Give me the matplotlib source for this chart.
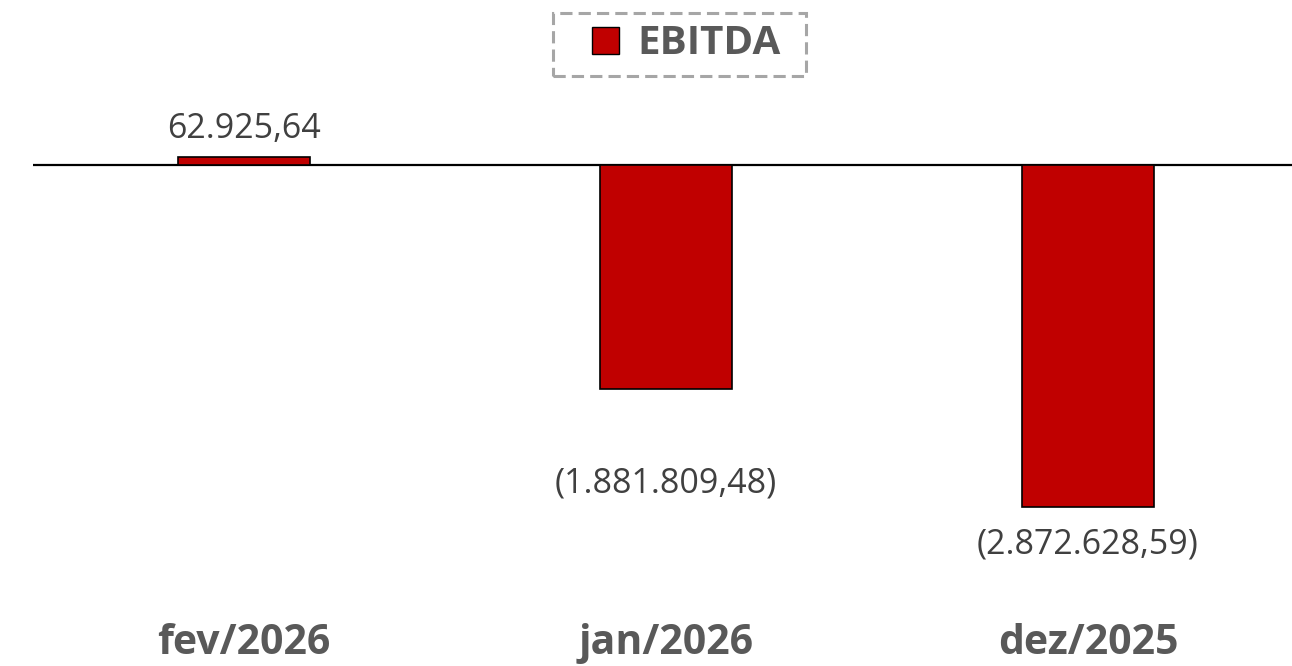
import matplotlib
matplotlib.use("Agg")
import matplotlib.pyplot as plt
from matplotlib.patches import Patch, Rectangle

categories = ["fev/2026", "jan/2026", "dez/2025"]
values = [62925.64, -1881809.48, -2872628.59]
labels = ["62.925,64", "(1.881.809,48)", "(2.872.628,59)"]
series_name = "EBITDA"

plt.rcParams['font.family'] = ['Open Sans', 'DejaVu Sans']

W, H = 1292, 666
fig = plt.figure(figsize=(W / 100, H / 100), dpi=100)
ax = fig.add_axes([33/W, 0.0, (1299-33)/W, 1.0])

x = list(range(len(categories)))
bars = ax.bar(x, values, width=0.315, color="#C00000", edgecolor="black", linewidth=1.2, zorder=3)

ax.axhline(0, color="black", linewidth=1.6, zorder=2)

# y scale: zero at pixel 165, ~1.192e-4 px per unit
ppu = 1.192e-4
top_px = 165
bottom_px = H - 165
ax.set_ylim(-bottom_px / ppu, top_px / ppu)
ax.set_xlim(-0.5, 2.5)

offsets = [(0, 20.5), (0, -68), (0, -26.5)]
for xi, v, lab, (dx, dy) in zip(x, values, labels, offsets):
    ax.annotate(lab, (xi, v), xytext=(dx, dy), textcoords="offset points",
                ha="center", va="center", fontsize=24.5, color="#404040")

for xi, c in zip(x, categories):
    ax.text(xi, 1 - 644/H, c, transform=ax.get_xaxis_transform(), ha="center", va="center",
            fontsize=29.5, fontweight="bold", color="#595959")

ax.axis("off")

leg = fig.legend(handles=[Patch(facecolor="#C00000", edgecolor="black", label=series_name)],
                 loc="center", bbox_to_anchor=(686/W, 1 - 44/H), frameon=False,
                 prop={"size": 29, "weight": "bold"}, handlelength=0.68, handleheight=0.68,
                 handletextpad=0.45, borderpad=0.3)
for t in leg.get_texts():
    t.set_color("#595959")

frame = Rectangle((553/W, 1 - 76/H), (806-553)/W, (76-13)/H, transform=fig.transFigure,
                  fill=False, edgecolor="#A6A6A6", linewidth=2.2, linestyle=(0, (4, 2)))
fig.add_artist(frame)

fig.savefig("out.png", dpi=100)
